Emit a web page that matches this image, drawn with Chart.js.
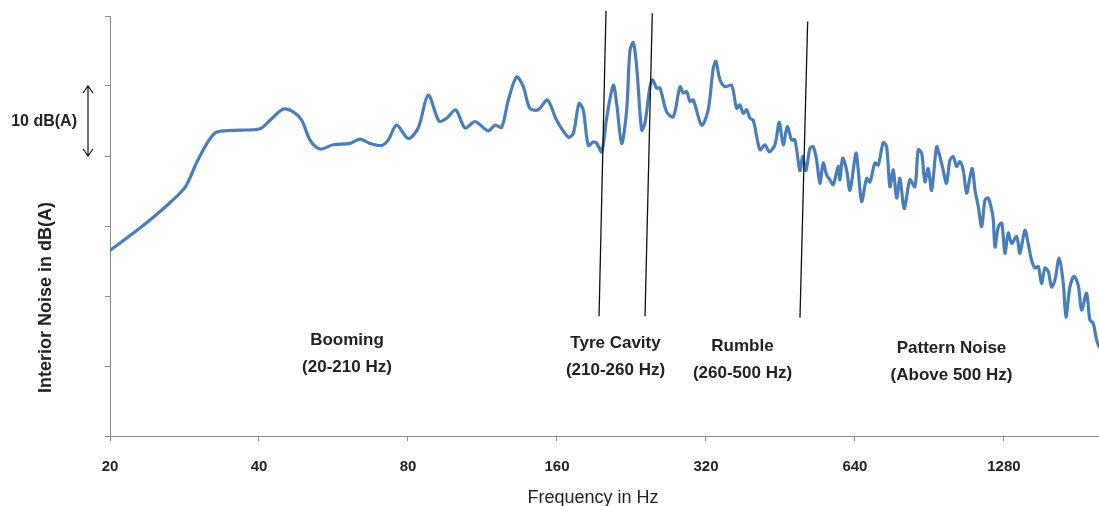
<!DOCTYPE html>
<html><head><meta charset="utf-8">
<script src="https://cdn.jsdelivr.net/npm/chart.js@4/dist/chart.umd.min.js"></script>
<style>html,body{margin:0;padding:0;background:#fff;overflow:hidden}#wrap{position:relative;width:1099px;height:506px}</style>
</head><body><div id="wrap"><canvas id="c" width="1099" height="506"></canvas></div>
<script>
// ---- data ----
const frequencies = [20,22.3,24.5,26.6,28.4,29.9,31.4,32.6,33.9,36.6,40.2,42.1,44.8,46.9,48.8,50.7,53.1,56.5,61.1,
64.0,67.0,70.8,73.0,75.9,80.1,83.9,87.9,92.4,95.8,99.9,104.3,109.3,116.2,119.9,123.7,127.6,132.6,136.8,141.1,146.7,153.0,159.8,168.6,172.6,177.3,180.8,185.1,
189.4,192.5,197.0,201.6,207.9,211.2,216.2,221.3,224.7,228.2,231.8,237.3,240.9,246.6,249.7,254.4,258.4,266.5,274.9,283.6,288.0,292.5,297.1,301.7,313.7,323.4,331.0,335.2,341.5,349.6,360.6,369.1,374.8,380.6,386.7,392.7,398.8,411.4,421.1,429.6,441.1,450.0,458.5,467.1,476.8,484.1,
495.5,501.8,509.5,519.1,527.1,535.5,543.8,552.2,561.0,569.7,578.5,592.1,596.8,604.4,615.7,625.3,643.0,649.9,660.2,675.8,686.2,702.4,713.2,730.0,741.7,753.1,764.8,777.0,789.0,805.0,826.5,846.0,859.1,872.8,886.3,900.0,914.4,935.8,950.4,
964.5,980.0,995.6,1011,1027,1043,1059,1076,1093,1105,1119,1136,1154,1172,1190,1209,1218,1228,1247,1267,1286,1306,1327,1358,1379,1411,1433,1456,1479,1502,1525,1549,1573,1598,1623,1655,1687,1708,1740,1773,1808,1837,1880,1909,1939,1970,1991];
const levels = [56.5,59.0,61.3,63.5,65.6,69.0,71.8,73.3,73.6,73.7,73.9,75.1,76.7,76.3,75.1,72.3,71.0,71.6,71.8,
72.4,71.8,71.5,72.3,74.4,72.5,74.0,78.7,75.0,75.4,76.6,74.0,74.9,73.6,74.4,74.1,78.0,81.3,79.9,76.8,76.6,78.0,75.1,72.7,73.2,77.5,76.6,71.5,
72.0,71.8,70.6,75.4,80.1,77.5,71.8,76.6,85.1,86.2,82.8,73.7,74.7,79.9,80.9,79.7,79.7,76.3,75.6,79.9,79.0,79.2,77.8,78.0,74.4,76.6,82.5,83.5,80.9,79.9,80.1,76.8,77.3,76.1,76.6,75.4,75.1,70.9,71.6,70.6,71.6,74.8,71.6,74.2,72.3,72.3,
67.9,70.0,67.9,71.1,71.3,69.4,66.1,69.0,67.3,66.6,65.9,68.5,66.6,69.7,68.0,65.1,70.4,68.0,63.5,66.8,66.3,69.0,68.7,71.9,71.3,65.6,68.0,64.0,66.8,62.5,66.6,65.6,70.9,70.4,66.3,68.2,65.1,71.3,69.9,
68.0,66.1,69.4,69.9,68.5,69.2,68.0,64.7,67.0,68.2,65.1,62.8,59.9,63.7,64.0,62.3,60.9,57.0,59.9,60.4,56.1,59.0,57.5,58.5,56.1,59.4,57.5,55.1,54.0,54.2,51.8,54.0,53.5,51.3,52.3,55.4,51.8,47.0,51.3,52.8,51.6,48.0,50.4,46.6,46.1,43.7,42.8];
const xTickValues = [20,40,80,160,320,640,1280];
const yTickValues = [30,40,50,60,70,80,90];
// region boundary lines (frequency / level at top and bottom ends)
const boundaryTopFreq = [201, 249.3, 513.6];
const boundaryTopLevel = [90.7, 90.4, 89.2];
const boundaryBottomFreq = [194.6, 241, 495.6];
const boundaryBottomLevel = [47.1, 47.1, 46.9];
const regionNames = ['Booming','Tyre Cavity','Rumble','Pattern Noise'];
const regionRanges = ['(20-210 Hz)','(210-260 Hz)','(260-500 Hz)','(Above 500 Hz)'];
const scaleBarText = '10 dB(A)';
const xTitle = 'Frequency in Hz';
const yTitle = 'Interior Noise in dB(A)';

// ---- layout ----
const FONT = "'Liberation Sans', Arial, sans-serif";
const regionLabelPos = [[347,345],[615.5,348],[742.5,351],[951.5,353]];
const AXIS = '#8a8a8a';

const datasets = [];
for (let i = 0; i < boundaryTopFreq.length; i++) {
  datasets.push({
    data: [{x: boundaryTopFreq[i], y: boundaryTopLevel[i]}, {x: boundaryBottomFreq[i], y: boundaryBottomLevel[i]}],
    borderColor: '#111', borderWidth: 1.3, pointRadius: 0, tension: 0, clip: false, order: 0
  });
}
datasets.push({
  data: frequencies.map((f, i) => ({x: f, y: levels[i]})),
  borderColor: '#4a7ebb', borderWidth: 3.2, pointRadius: 0, tension: 0.3, fill: false, order: 1,
  borderJoinStyle: 'round', borderCapStyle: 'round'
});

const annotations = {
  id: 'annotations',
  afterDraw(chart) {
    const ctx = chart.ctx;
    const y = chart.scales.y;
    ctx.save();
    ctx.fillStyle = '#222';
    // scale bar arrow
    const ya = y.getPixelForValue(80), yb = y.getPixelForValue(70), ax = 88;
    ctx.strokeStyle = '#111'; ctx.lineWidth = 1.2;
    ctx.beginPath();
    ctx.moveTo(ax, ya); ctx.lineTo(ax, yb);
    ctx.moveTo(ax - 5, ya + 7); ctx.lineTo(ax, ya); ctx.lineTo(ax + 5, ya + 7);
    ctx.moveTo(ax - 5, yb - 7); ctx.lineTo(ax, yb); ctx.lineTo(ax + 5, yb - 7);
    ctx.stroke();
    ctx.font = 'bold 16px ' + FONT;
    ctx.textAlign = 'right'; ctx.textBaseline = 'middle';
    ctx.fillText(scaleBarText, 77, (ya + yb) / 2 + 1);
    // region labels
    ctx.font = 'bold 17px ' + FONT;
    ctx.textAlign = 'center'; ctx.textBaseline = 'alphabetic';
    regionNames.forEach((n, i) => {
      const [px, py] = regionLabelPos[i];
      ctx.fillText(n, px, py);
      ctx.fillText(regionRanges[i], px, py + 27);
    });
    // x title
    ctx.font = '18px ' + FONT;
    ctx.fillText(xTitle, 593, 503);
    // y title
    ctx.font = 'bold 18px ' + FONT;
    ctx.translate(46, 297.5);
    ctx.rotate(-Math.PI / 2);
    ctx.textBaseline = 'middle';
    ctx.fillText(yTitle, 0, 0);
    ctx.restore();
  }
};

new Chart(document.getElementById('c'), {
  type: 'line',
  data: {datasets},
  options: {
    responsive: false, animation: false,
    layout: {padding: {top: 16, right: 0, left: 0, bottom: 0}},
    plugins: {legend: {display: false}, tooltip: {enabled: false}},
    scales: {
      x: {
        type: 'logarithmic', min: 20, max: 1992,
        afterBuildTicks: s => { s.ticks = xTickValues.map(v => ({value: v})); },
        afterFit: s => { s.height = 70; },
        ticks: {autoSkip: false, maxRotation: 0, minRotation: 0, padding: 17, color: '#222',
          font: {family: FONT, size: 15, weight: 'bold'}, callback: v => String(v)},
        grid: {drawOnChartArea: false, drawTicks: true, tickLength: 5, color: AXIS, lineWidth: 1},
        border: {color: AXIS, width: 1}
      },
      y: {
        min: 30, max: 90,
        afterBuildTicks: s => { s.ticks = yTickValues.map(v => ({value: v})); },
        afterFit: s => { s.width = 110; },
        ticks: {display: false},
        grid: {drawOnChartArea: false, drawTicks: true, tickLength: 5, color: AXIS, lineWidth: 1},
        border: {color: AXIS, width: 1}
      }
    }
  },
  plugins: [annotations]
});
</script>
</body></html>
